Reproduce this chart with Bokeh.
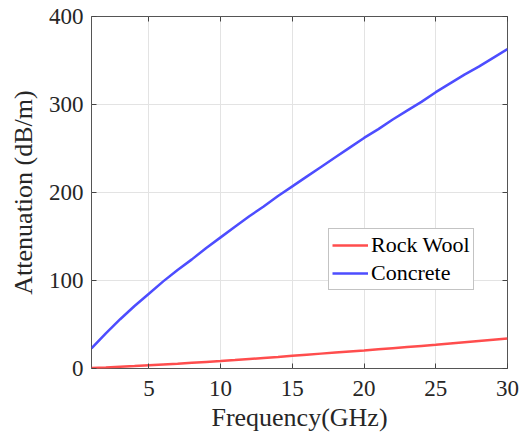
from bokeh.plotting import figure
from bokeh.models import Range1d, LinearAxis, FixedTicker, Legend, LegendItem, CustomJSTickFormatter
from bokeh.embed import file_html
from bokeh.resources import INLINE

freq = list(range(1, 31))
concrete = [23, 40, 56, 71, 85, 99, 112, 124, 137, 149,
            161, 173, 184, 196, 207, 218, 229, 240, 251, 262,
            272, 283, 293, 303, 314, 324, 334, 343, 353, 363]
rock_wool = [0.5, 1.2, 2.0, 2.8, 3.7, 4.6, 5.5, 6.5, 7.5, 8.5,
             9.6, 10.8, 12.0, 13.2, 14.5, 15.7, 16.9, 18.1, 19.3, 20.5,
             21.8, 23.1, 24.4, 25.7, 27.0, 28.4, 29.8, 31.2, 32.6, 34.0]
x_ticks = [5, 10, 15, 20, 25, 30]
y_ticks = [0, 100, 200, 300, 400]

FONT = "'Liberation Serif', 'DejaVu Serif', serif"

p = figure(width=520, height=436, output_backend="svg", toolbar_location=None,
           x_range=Range1d(1, 30), y_range=Range1d(0, 400),
           min_border_left=91, min_border_right=13, min_border_top=16, min_border_bottom=68)

p.outline_line_color = "#555555"
p.outline_line_width = 1
p.outline_line_alpha = 1

for ax, ticks in ((p.xaxis[0], x_ticks), (p.yaxis[0], y_ticks)):
    ax.ticker = FixedTicker(ticks=ticks)
    ax.major_tick_in = 5
    ax.major_tick_out = 0
    ax.minor_tick_line_color = None
    ax.axis_line_color = None
    ax.major_tick_line_color = "#444444"
    ax.major_label_text_font = FONT
    ax.major_label_text_font_size = "23px"
    ax.major_label_text_color = "#262626"
    ax.axis_label_text_font = FONT
    ax.axis_label_text_font_size = "26px"
    ax.axis_label_text_font_style = "normal"
    ax.axis_label_text_color = "#262626"

p.xaxis.axis_label = "Frequency(GHz)"
p.yaxis.axis_label = "Attenuation (dB/m)"
p.xaxis.major_label_standoff = 12
p.yaxis.major_label_standoff = 8
p.xaxis.axis_label_standoff = 4
p.yaxis.axis_label_standoff = 8

top = LinearAxis(ticker=FixedTicker(ticks=x_ticks))
right = LinearAxis(ticker=FixedTicker(ticks=y_ticks))
for ax in (top, right):
    ax.major_tick_in = 5
    ax.major_tick_out = 0
    ax.minor_tick_line_color = None
    ax.axis_line_color = None
    ax.major_tick_line_color = "#444444"
    ax.formatter = CustomJSTickFormatter(code="return '';")
    ax.major_label_standoff = 0
p.add_layout(top, "above")
p.add_layout(right, "right")

p.xgrid.ticker = FixedTicker(ticks=x_ticks)
p.ygrid.ticker = FixedTicker(ticks=y_ticks)
p.grid.grid_line_color = "#e3e3e3"
p.grid.grid_line_width = 1

r1 = p.line(freq, rock_wool, line_color="#ff4d4d", line_width=2.5)
r2 = p.line(freq, concrete, line_color="#4d4dff", line_width=2.5)

legend = Legend(items=[LegendItem(label="Rock Wool", renderers=[r1]),
                       LegendItem(label="Concrete", renderers=[r2])],
                location=(237, 78))
legend.label_text_font = FONT
legend.label_text_font_size = "22px"
legend.label_text_color = "#000000"
legend.glyph_width = 36
legend.glyph_height = 24
legend.label_height = 24
legend.label_standoff = 3
legend.padding = 3
legend.spacing = 2
legend.margin = 0
legend.border_line_color = "#888888"
legend.border_line_width = 1
legend.background_fill_color = "white"
legend.background_fill_alpha = 1
p.add_layout(legend, "center")

open("out.html", "w").write(file_html(p, INLINE))
